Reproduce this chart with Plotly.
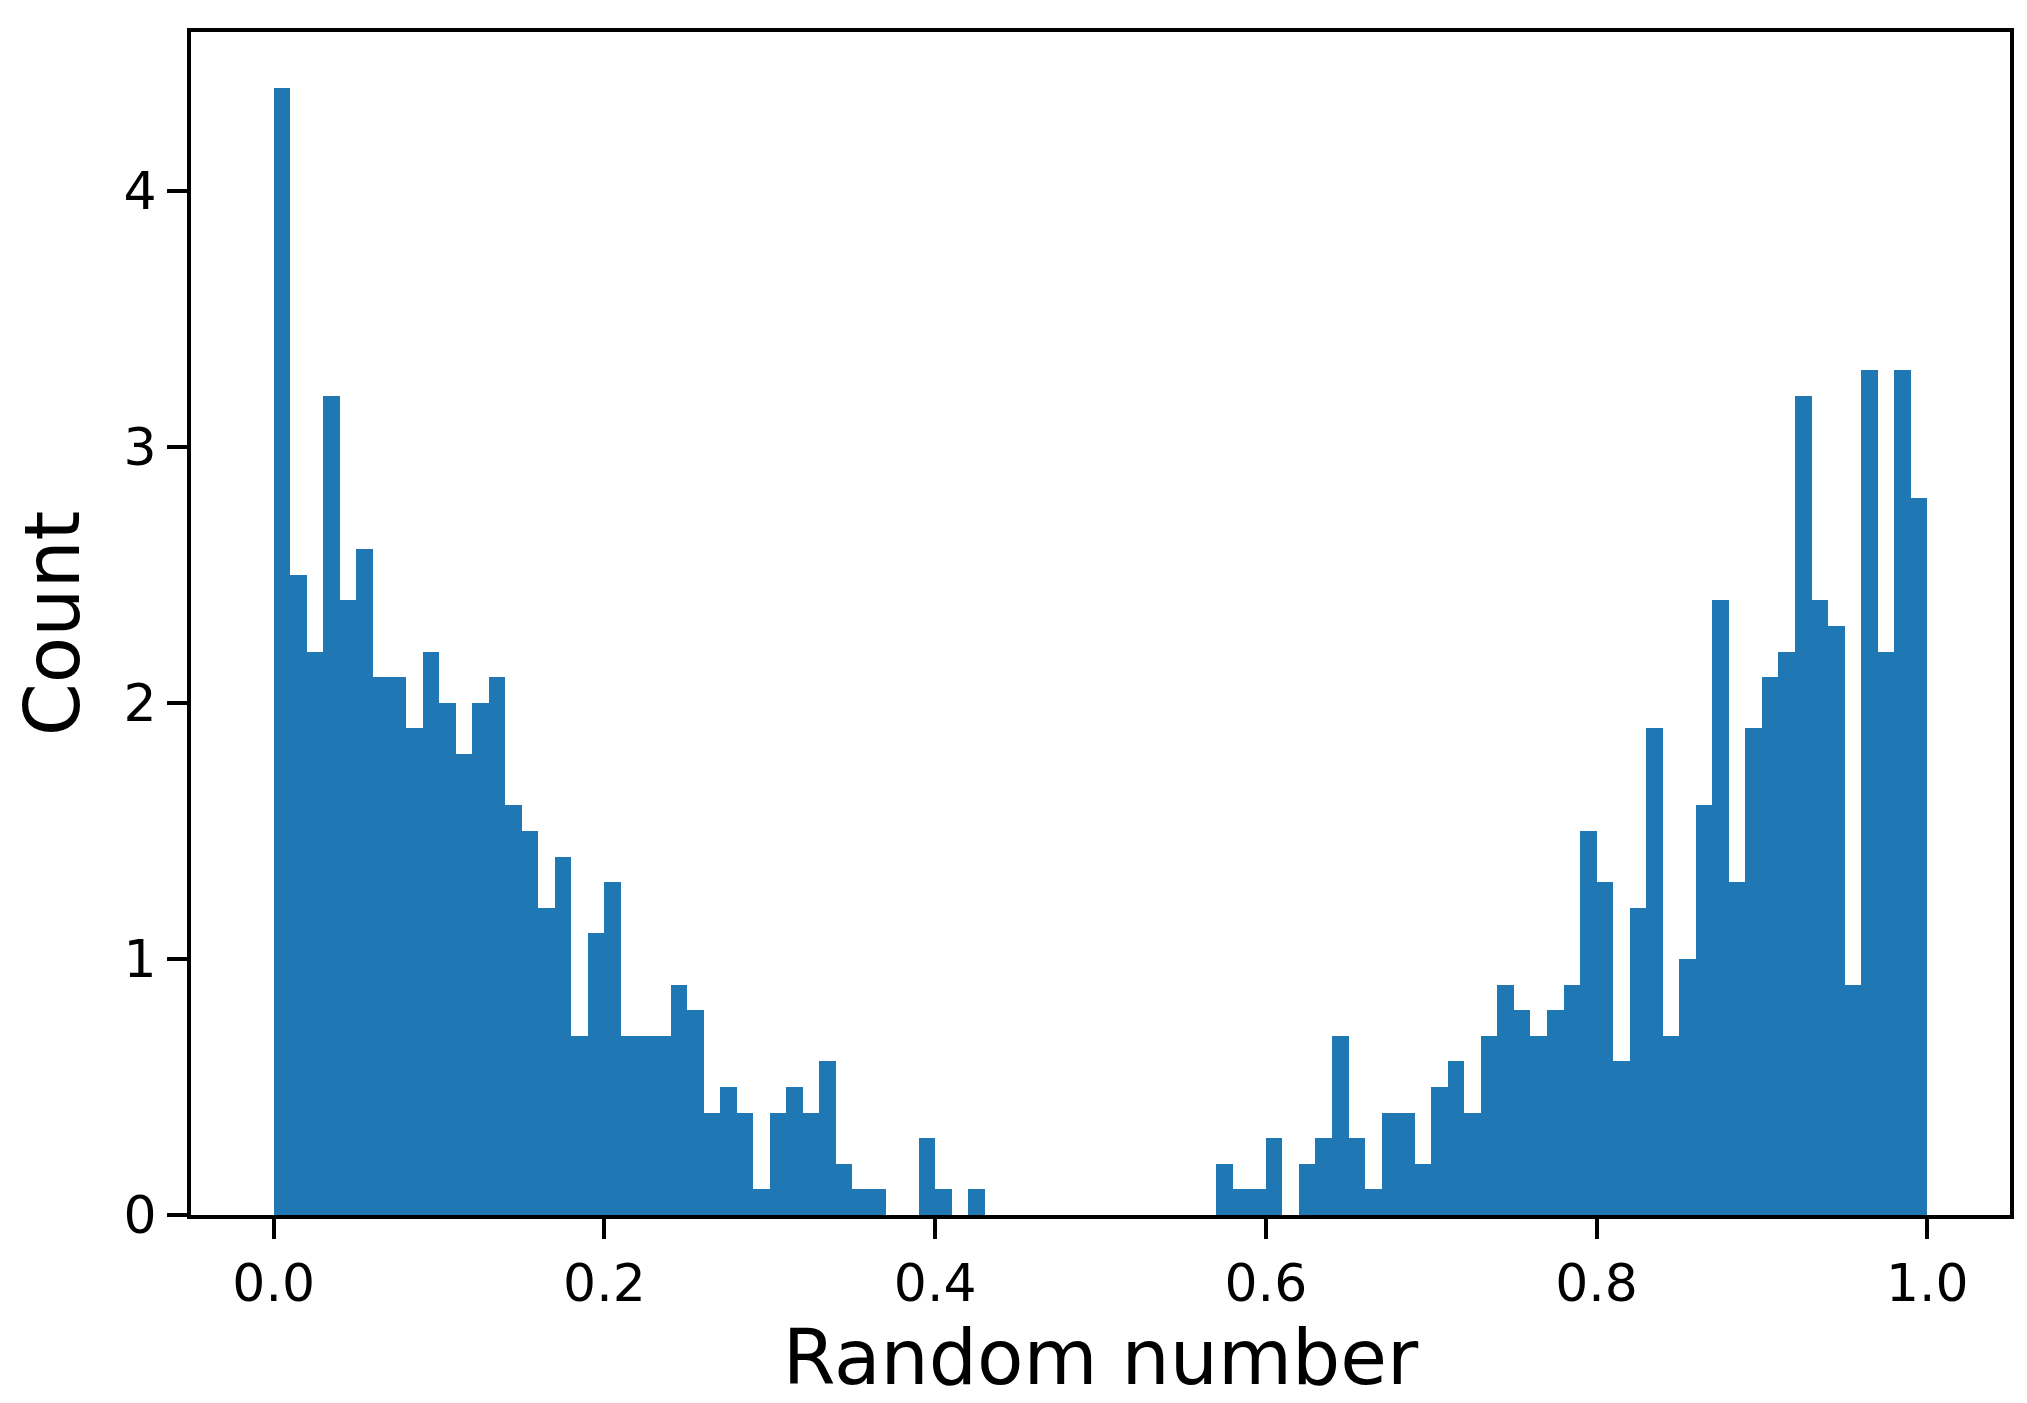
import plotly.graph_objects as go

bin_start = 0.0
bin_width = 0.01
density = [4.4, 2.5, 2.2, 3.2, 2.4, 2.6, 2.1, 2.1, 1.9, 2.2,
           2.0, 1.8, 2.0, 2.1, 1.6, 1.5, 1.2, 1.4, 0.7, 1.1,
           1.3, 0.7, 0.7, 0.7, 0.9, 0.8, 0.4, 0.5, 0.4, 0.1,
           0.4, 0.5, 0.4, 0.6, 0.2, 0.1, 0.1, 0.0, 0.0, 0.3,
           0.1, 0.0, 0.1, 0.0, 0.0, 0.0, 0.0, 0.0, 0.0, 0.0,
           0.0, 0.0, 0.0, 0.0, 0.0, 0.0, 0.0, 0.2, 0.1, 0.1,
           0.3, 0.0, 0.2, 0.3, 0.7, 0.3, 0.1, 0.4, 0.4, 0.2,
           0.5, 0.6, 0.4, 0.7, 0.9, 0.8, 0.7, 0.8, 0.9, 1.5,
           1.3, 0.6, 1.2, 1.9, 0.7, 1.0, 1.6, 2.4, 1.3, 1.9,
           2.1, 2.2, 3.2, 2.4, 2.3, 0.9, 3.3, 2.2, 3.3, 2.8]
x_ticks = [0.0, 0.2, 0.4, 0.6, 0.8, 1.0]
x_tick_labels = ["0.0", "0.2", "0.4", "0.6", "0.8", "1.0"]
y_ticks = [0, 1, 2, 3, 4]

centers = [bin_start + (i + 0.5) * bin_width for i in range(len(density))]

fig = go.Figure(go.Bar(x=centers, y=density, width=bin_width,
                       marker=dict(color="#1f77b4", line=dict(width=0))))

axis_common = dict(showline=True, linecolor="black", linewidth=4, mirror=True,
                   ticks="outside", ticklen=20, tickwidth=4, tickcolor="black",
                   showgrid=False, zeroline=False,
                   tickfont=dict(family="DejaVu Sans", size=52, color="black"),
                   title_font=dict(family="DejaVu Sans", size=76, color="black"))

fig.update_layout(
    width=2027, height=1403,
    margin=dict(l=183, r=25, t=24, b=196),
    plot_bgcolor="white", paper_bgcolor="white",
    bargap=0, showlegend=False,
    xaxis=dict(range=[-0.05, 1.05], tickvals=x_ticks, ticktext=x_tick_labels,
               title=dict(text="Random number", standoff=14), **axis_common),
    yaxis=dict(range=[0, 4.62], tickvals=y_ticks,
               title=dict(text="Count", standoff=30), **axis_common),
)

fig.write_html("out.html")
